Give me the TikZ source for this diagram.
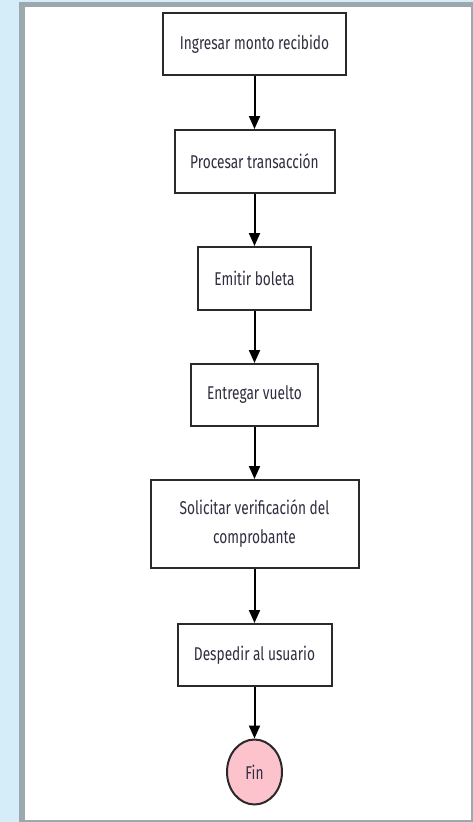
\documentclass[tikz,border=0pt]{standalone}
\usepackage{fontspec}
\setmainfont{Fira Sans}[FakeStretch=0.74]
\usetikzlibrary{arrows.meta,shapes.geometric}
\definecolor{bgblue}{HTML}{D4EDF9}
\definecolor{framegray}{HTML}{9BA8AE}
\definecolor{boxline}{HTML}{2A2A2A}
\definecolor{txt}{HTML}{2E2E40}
\definecolor{finpink}{HTML}{FDC3CC}
\begin{document}
\begin{tikzpicture}[x=1pt,y=-1pt,
  stepbox/.style={draw=boxline,line width=2pt,fill=white,rectangle,inner sep=0pt,
    text=txt,font=\fontsize{18.5}{29}\selectfont,align=center},
  endnode/.style={draw=boxline,line width=2pt,fill=finpink,ellipse,inner sep=0pt,
    text=txt,font=\fontsize{18.5}{20}\selectfont,minimum width=55pt,minimum height=65pt},
  flow/.style={draw=black,line width=2pt,-{Triangle[length=13pt,width=11pt]}}]
\useasboundingbox (0,0) rectangle (473,822);
\fill[bgblue] (0,0) rectangle (473,822);
\fill[framegray] (19,2) rectangle (473,822);
\fill[white] (25,7) rectangle (470.5,819.5);
\node[stepbox,minimum width=183pt,minimum height=62pt] (b1) at (254.5,44) {Ingresar monto recibido};
\node[stepbox,minimum width=160pt,minimum height=63pt] (b2) at (254.5,161.5) {Procesar transacción};
\node[stepbox,minimum width=113pt,minimum height=63pt] (b3) at (254.5,278.5) {Emitir boleta};
\node[stepbox,minimum width=127pt,minimum height=62pt] (b4) at (254.5,395) {Entregar vuelto};
\node[stepbox,minimum width=208pt,minimum height=88pt] (b5) at (254.5,524) {Solicitar verificación del\\comprobante};
\node[stepbox,minimum width=154pt,minimum height=62pt] (b6) at (254.5,655) {Despedir al usuario};
\node[endnode] (fin) at (254.5,772) {Fin};
\draw[flow] (b1) -- (b2);
\draw[flow] (b2) -- (b3);
\draw[flow] (b3) -- (b4);
\draw[flow] (b4) -- (b5);
\draw[flow] (b5) -- (b6);
\draw[flow] (b6) -- (fin);
\end{tikzpicture}
\end{document}
